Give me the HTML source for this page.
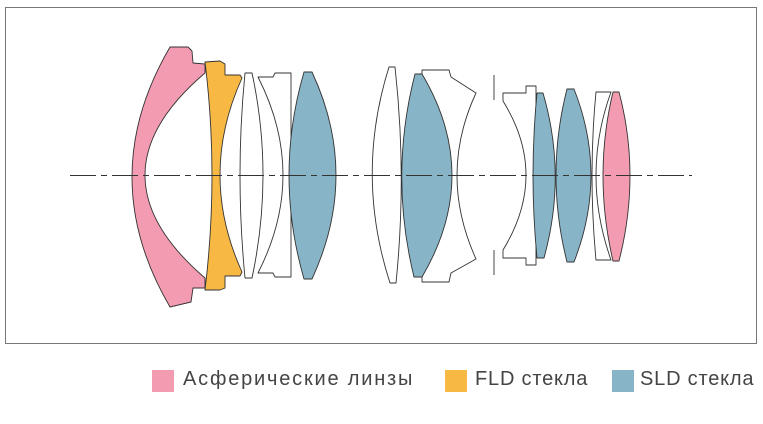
<!DOCTYPE html>
<html><head><meta charset="utf-8"><style>
body{margin:0;background:#fff;width:763px;height:424px;overflow:hidden;font-family:"Liberation Sans",sans-serif}
.lg{position:absolute;top:368px;font-size:20px;color:#444;white-space:nowrap;letter-spacing:0.8px}
.sq{position:absolute;top:370px;width:22px;height:22px}
</style></head><body>
<svg width="763" height="424" style="position:absolute;left:0;top:0">
<rect x="5.5" y="7.5" width="751" height="336" fill="none" stroke="#777" stroke-width="1"/>
<g stroke="#333" stroke-width="0.9" stroke-linejoin="round">
<path fill="#f39cb1" d="M170,47 L188,47 L192,51 L193,63 L205,64 L205,73 Q85,175 205,278 L205,288 L193,288 L191,302 L170,307 Q94,177 170,47 Z"/>
<path fill="#f8b944" d="M205,62 L220,61 L225,64 L225,75 L240,75 L242,78 Q198,175 242,272 L240,276 L225,276 L225,288 L220,290 L205,290 Q219,175 205,62 Z"/>
<path fill="#fff" d="M245,73 L252,73 Q274,175 252,278 L245,278 Q235,175 245,73 Z"/>
<path fill="#fff" d="M258,77 L273,77 L275,73 L291,73 L291,277 L275,277 L273,273 L258,273 Q308,175 258,77 Z"/>
<path fill="#88b4c7" d="M304,72 L312,72 Q360,175 312,279 L304,279 Q274,175 304,72 Z"/>
<path fill="#fff" d="M389,67 L395,67 Q407,175 396,283 L390,283 Q355,175 389,67 Z"/>
<path fill="#fff" d="M422,70 L449,70 L451,77 L476,93 Q438,175 476,259 L451,273 L449,282 L422,282 Z"/>
<path fill="#88b4c7" d="M415,74 L422,74 Q482,175 422,277 L414,277 Q389,175 415,74 Z"/>
<path fill="#fff" d="M503,93 L526,93 L526,86 L536,86 L536,265 L526,265 L526,258 L503,258 L503,250 Q549,175 503,101 Z"/>
<path fill="#88b4c7" d="M537,93 L543,93 Q567,175 544,258 L537,258 Q529,175 537,93 Z"/>
<path fill="#88b4c7" d="M567,89 L574,89 Q608,175 574,262 L567,262 Q545,175 567,89 Z"/>
<path fill="#fff" d="M596,92 L611,92 Q581,175 611,260 L596,260 Q588,175 596,92 Z"/>
<path fill="#f39cb1" d="M613,92 L619,92 Q641,175 619,261 L613,261 Q593,175 613,92 Z"/>
<line x1="494" y1="75" x2="494" y2="100"/>
<line x1="494" y1="250" x2="494" y2="275"/>
</g>
<line x1="70" y1="175.5" x2="692" y2="175.5" stroke="#333" stroke-width="0.9" stroke-dasharray="26 5 6 5"/>
</svg>
<div class="sq" style="left:152px;background:#f39cb1"></div>
<div class="lg" style="left:183px;letter-spacing:1.8px">Асферические линзы</div>
<div class="sq" style="left:445px;background:#f8b944"></div>
<div class="lg" style="left:475px">FLD стекла</div>
<div class="sq" style="left:612px;background:#88b4c7"></div>
<div class="lg" style="left:640px">SLD стекла</div>
</body></html>
